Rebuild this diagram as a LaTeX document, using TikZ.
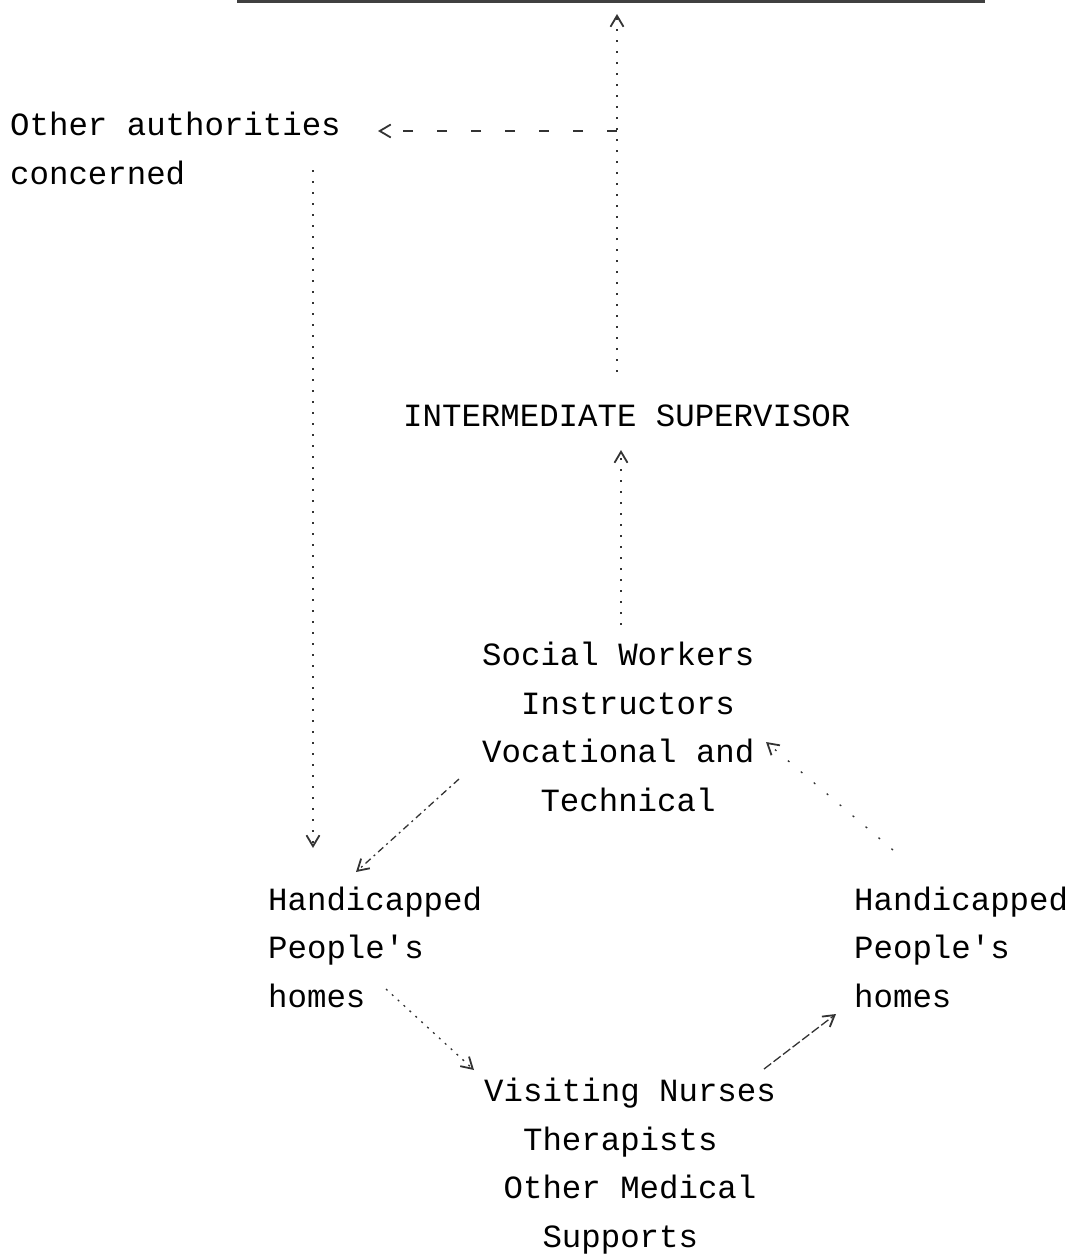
\documentclass[tikz,border=0pt]{standalone}
\usepackage{fontspec}
\newfontfamily\tw{Liberation Mono}
\usetikzlibrary{arrows.meta}
\tikzset{
  txt/.style={font=\tw\fontsize{32.4}{48.5}\selectfont, inner sep=0pt, align=left, anchor=base west, text=black},
  conn/.style={draw=black!80, line width=1.3pt, -{Straight Barb[length=11pt,width=13pt,line width=1.8pt]}},
  sparsedot/.style={conn, dash pattern=on 2pt off 9pt},
  verysparse/.style={conn, dash pattern=on 2pt off 15pt},
  dashline/.style={conn, dash pattern=on 10pt off 24pt},
  dashdot/.style={conn, dash pattern=on 7pt off 4pt on 2pt off 4pt},
  dotline/.style={conn, dash pattern=on 2pt off 6pt},
  denseline/.style={conn, dash pattern=on 9pt off 3pt},
}
\begin{document}
\begin{tikzpicture}[x=1pt,y=-1pt]
\useasboundingbox (0,0) rectangle (1075,1255);

% text nodes (base anchor = baseline of last line)
\node[txt] (auth) at (10,184) {Other authorities\\concerned};
\node[txt] (sup) at (403,426) {INTERMEDIATE SUPERVISOR};
\node[txt] (soc) at (482,811) {Social Workers\\\hphantom{xx}Instructors\\Vocational and\\\hphantom{xxx}Technical};
\node[txt] (hl) at (268,1007) {Handicapped\\People's\\homes};
\node[txt] (hr) at (854,1007) {Handicapped\\People's\\homes};
\node[txt] (vis) at (484,1247) {Visiting Nurses\\\hphantom{xx}Therapists\\\hphantom{x}Other Medical\\\hphantom{xxx}Supports};

% top box edge (cut off)
\coordinate (boxL) at (237,1.5);
\coordinate (boxR) at (985,1.5);
\draw[black!75, line width=2.5pt] (boxL) -- (boxR);

% endpoints
\coordinate (supTop) at (617,372);
\coordinate (boxIn) at (617,14);
\coordinate (branch) at (617,131);
\coordinate (authEnd) at (378,131);
\coordinate (authBot) at (313,170);
\coordinate (hlTop) at (313,848);
\coordinate (socTop) at (621,625);
\coordinate (supBot) at (621,450);
\coordinate (socL) at (459,779);
\coordinate (hlTR) at (356,872);
\coordinate (hrTop) at (893,850);
\coordinate (socR) at (766,742);
\coordinate (hlBR) at (386,989);
\coordinate (visTL) at (474,1070);
\coordinate (visTR) at (764,1069);
\coordinate (hrBL) at (836,1014);

% connectors
\draw[sparsedot] (supTop) -- (boxIn);
\draw[dashline] (branch) -- (authEnd);
\draw[sparsedot] (authBot) -- (hlTop);
\draw[sparsedot] (socTop) -- (supBot);
\draw[dashdot] (socL) -- (hlTR);
\draw[verysparse] (hrTop) -- (socR);
\draw[dotline] (hlBR) -- (visTL);
\draw[denseline] (visTR) -- (hrBL);
\end{tikzpicture}
\end{document}
